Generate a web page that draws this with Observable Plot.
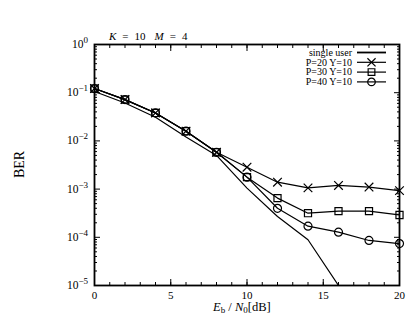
<!DOCTYPE html>
<html>
<head>
<meta charset="utf-8">
<script src="https://cdn.jsdelivr.net/npm/d3@7"></script>
<script src="https://cdn.jsdelivr.net/npm/@observablehq/plot@0.6"></script>
<style>
  html, body { margin: 0; padding: 0; background: #fff; }
  #chart svg { display: block; }
</style>
</head>
<body>
<div id="chart"></div>
<script>
// ---- data ----
const ebn0 = [0, 2, 4, 6, 8, 10, 12, 14, 16, 18, 20];
const singleUser = [0.106, 0.061, 0.031, 0.012, 0.005, 0.00105, 0.00027, 0.000089, 0.00001];
const p20 = [0.122, 0.072, 0.038, 0.0159, 0.0058, 0.00285, 0.00139, 0.00106, 0.00119, 0.0011, 0.00093];
const p30 = [0.122, 0.072, 0.038, 0.0159, 0.0058, 0.00177, 0.00065, 0.000316, 0.00035, 0.00035, 0.00029];
const p40 = [0.122, 0.072, 0.038, 0.0159, 0.0058, 0.00177, 0.0004, 0.00017, 0.000128, 0.000086, 0.000074];
const seriesNames = ["single user", "P=20 Y=10", "P=30 Y=10", "P=40 Y=10"];
const seriesSymbols = [null, "times", "square", "circle"];
const xMajor = [0, 5, 10, 15, 20];
const yMajor = [1e-5, 1e-4, 1e-3, 1e-2, 1e-1, 1];
const yExponents = ["−5", "−4", "−3", "−2", "−1", "0"];

// ---- build tables ----
const toRows = (vals, name) => vals.map((v, i) => ({x: ebn0[i], y: v, s: name}));
const rows = [
  toRows(singleUser, seriesNames[0]),
  toRows(p20, seriesNames[1]),
  toRows(p30, seriesNames[2]),
  toRows(p40, seriesNames[3])
];
const xMinor = d3.range(0, 21);
const yMinor = [];
for (let e = -5; e < 0; e++) for (let m = 2; m <= 9; m++) yMinor.push(m * Math.pow(10, e));

const font = "'Liberation Serif', 'DejaVu Serif', serif";

const plot = Plot.plot({
  width: 413,
  height: 318,
  marginLeft: 94,
  marginRight: 14,
  marginTop: 44,
  marginBottom: 33,
  style: {fontFamily: font, fontSize: "10px", color: "#000", background: "#fff"},
  x: {domain: [0, 20]},
  y: {type: "log", domain: [1e-5, 1]},
  marks: [
    Plot.axisX({ticks: xMinor, tickSize: -3, text: null, label: null, anchor: "bottom", strokeWidth: 1}),
    Plot.axisX({ticks: xMinor, tickSize: -3, text: null, label: null, anchor: "top", strokeWidth: 1}),
    Plot.axisX({ticks: xMajor, tickSize: -6, text: null, label: null, anchor: "bottom", strokeWidth: 1}),
    Plot.axisX({ticks: xMajor, tickSize: -6, text: null, label: null, anchor: "top", strokeWidth: 1}),
    Plot.axisX({ticks: xMajor, tickSize: 0, tickPadding: 6, label: null, anchor: "bottom", fontSize: 11}),
    Plot.axisY({ticks: yMinor, tickSize: -3, text: null, label: null, anchor: "left", strokeWidth: 1}),
    Plot.axisY({ticks: yMinor, tickSize: -3, text: null, label: null, anchor: "right", strokeWidth: 1}),
    Plot.axisY({ticks: yMajor, tickSize: -6, text: null, label: null, anchor: "left", strokeWidth: 1}),
    Plot.axisY({ticks: yMajor, tickSize: -6, text: null, label: null, anchor: "right", strokeWidth: 1}),
    ...rows.map((r) => Plot.line(r, {x: "x", y: "y", stroke: "#000", strokeWidth: 1.2, clip: true})),
    ...rows.slice(1).map((r, i) => Plot.dot(r, {x: "x", y: "y", symbol: () => seriesSymbols[i + 1],
      r: 4, stroke: "#000", strokeWidth: 1.2, fill: "none"})),
    Plot.frame({stroke: "#000", strokeWidth: 1.8})
  ]
});

document.getElementById("chart").appendChild(plot);

// ---- annotations: y tick labels, title, axis labels, legend ----
const svg = d3.select(plot);
const xs = (v) => plot.scale("x").apply(v);
const ys = (v) => plot.scale("y").apply(v);

// y tick labels with real superscripts, placed through the y scale
const yl = svg.append("g").attr("font-family", font).attr("text-anchor", "end");
yMajor.forEach((v, i) => {
  const tx = yl.append("text").attr("x", 88).attr("y", ys(v) + 4);
  tx.append("tspan").attr("font-size", 11.5).text("10");
  tx.append("tspan").attr("font-size", 9).attr("dy", -5).text(yExponents[i]);
});

// title
const t = svg.append("text").attr("x", 109).attr("y", 40).attr("text-anchor", "start")
  .attr("font-family", font).attr("font-size", 11);
t.append("tspan").attr("font-style", "italic").text("K");
t.append("tspan").attr("dx", 6).text("=");
t.append("tspan").attr("dx", 6).text("10");
t.append("tspan").attr("dx", 9).attr("font-style", "italic").text("M");
t.append("tspan").attr("dx", 6).text("=");
t.append("tspan").attr("dx", 6).text("4");

// y label
svg.append("text").attr("transform", `translate(24,${(ys(1) + ys(1e-5)) / 2}) rotate(-90)`)
  .attr("text-anchor", "middle").attr("font-family", font).attr("font-size", 14).text("BER");

// x label
const xl = svg.append("text").attr("x", 213).attr("y", 311)
  .attr("font-family", font).attr("font-size", 12.5).attr("text-anchor", "start");
xl.append("tspan").attr("font-style", "italic").text("E");
xl.append("tspan").attr("font-size", 9).attr("dy", 2).text("b");
xl.append("tspan").attr("dy", -2).text(" / ");
xl.append("tspan").attr("font-style", "italic").text("N");
xl.append("tspan").attr("font-size", 9).attr("dy", 2).text("0");
xl.append("tspan").attr("dy", -2).text("[dB]");

// legend
const lg = svg.append("g").attr("font-family", font).attr("font-size", 10);
const sym = {
  times: d3.symbol(d3.symbolTimes, 45),
  square: d3.symbol(d3.symbolSquare, 45),
  circle: d3.symbol(d3.symbolCircle, 45)
};
seriesNames.forEach((name, i) => {
  const yy = 52.5 + i * 9.8;
  lg.append("text").attr("x", 352).attr("y", yy).attr("dy", "0.32em").attr("text-anchor", "end").text(name);
  lg.append("line").attr("x1", 357).attr("x2", 386).attr("y1", yy).attr("y2", yy)
    .attr("stroke", "#000").attr("stroke-width", i === 0 ? 1.8 : 1.2);
  if (seriesSymbols[i]) {
    lg.append("path").attr("d", sym[seriesSymbols[i]]()).attr("transform", `translate(371.5,${yy})`)
      .attr("fill", "none").attr("stroke", "#000").attr("stroke-width", 1.2);
  }
});
</script>
</body>
</html>
